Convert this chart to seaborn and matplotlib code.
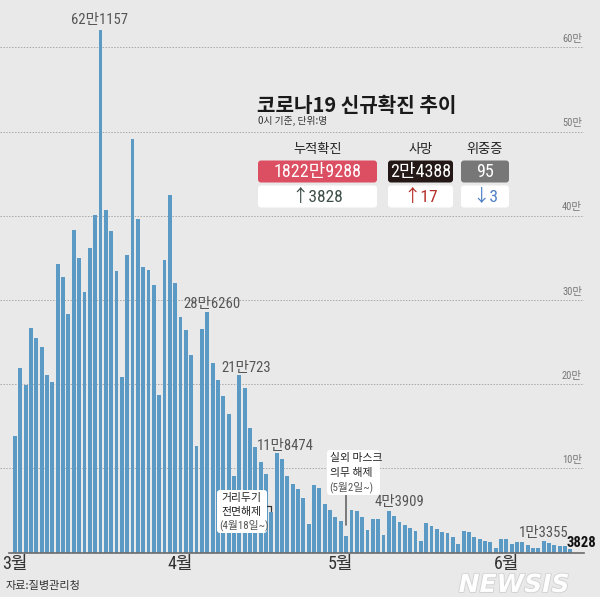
import matplotlib
matplotlib.use("Agg")
import matplotlib.pyplot as plt
import matplotlib.patheffects as pe
from matplotlib.patches import FancyBboxPatch, Rectangle
import pandas as pd
import seaborn as sns

# 코로나19 일별 신규확진 (0시 기준) 3/1 ~ 6/13
mar = [138993, 219241, 198803, 266853, 254327, 243628, 210716, 202721, 342446, 327549,
       282987, 383665, 350190, 309790, 362338, 400741, 621157, 407017, 381454, 334708,
       209169, 353980, 490881, 395598, 339514, 335580, 318130, 187213, 347554, 424641,
       320743]
apr = [280273, 264171, 234301, 127190, 266135, 286260, 224820, 205333, 185566, 164481,
       90928, 210723, 195419, 148443, 125846, 107916, 93001, 47743, 118474, 111319,
       90867, 81058, 75449, 64725, 34370, 80500, 76800, 57500, 50500, 42300]
may = [37800, 20087, 51100, 49000, 42300, 26700, 40000, 40000, 20600, 49900,
       43909, 35900, 32400, 29500, 25400, 13300, 35000, 31500, 28000, 25000,
       23000, 19000, 10000, 26000, 24000, 18500, 16000, 14000, 12500, 6000,
       16700]
jun = [16000, 10000, 12500, 12200, 9300, 5000, 6000, 13355, 12100, 9000,
       8400, 7400, 3828]

months = ["3월", "4월", "5월", "6월"]
month_days = [len(mar), len(apr), len(may), len(jun)]
cases = mar + apr + may + jun
dates = pd.date_range("2022-03-01", periods=len(cases), freq="D")

# 막대 위 숫자 라벨: 날짜 -> (라벨, x오프셋pt, y오프셋pt)
peak_labels = {
    "2022-03-17": ("62만1157", -1, 4),
    "2022-04-06": ("28만6260", 3.5, 2.5),
    "2022-04-12": ("21만723", 5, 2.2),
    "2022-04-19": ("11만8474", 6.5, 2.2),
    "2022-05-11": ("4만3909", 3.5, 7),
    "2022-06-08": ("1만3355", 0, 3.2),
}
last_label = "3828"

grid_vals = [100000, 200000, 300000, 400000, 500000, 600000]

# 누적 현황 박스
summary_titles = ["누적확진", "사망", "위중증"]
summary_totals = ["1822만9288", "2만4388", "95"]
summary_changes = ["↑3828", "↑17", "↓3"]

df = pd.DataFrame({"date": dates.strftime("%Y-%m-%d"), "cases": cases})

sns.set_style("white")
NUM = ["Roboto Condensed", "Noto Sans CJK KR", "DejaVu Sans"]
KR = ["Noto Sans CJK KR", "DejaVu Sans"]
plt.rcParams["font.family"] = NUM
plt.rcParams["axes.unicode_minus"] = False

BG = "#e9e9e9"
BAR = "#5a9ac4"

fig = plt.figure(figsize=(6, 6.11), dpi=100, facecolor=BG)
fig.patches.append(Rectangle((0, 0), 1, 14 / 611, transform=fig.transFigure,
                             facecolor="white", edgecolor="none", zorder=0))

ax = fig.add_axes([0, 58.3 / 611, 584 / 600, 552.7 / 611])
ax.set_facecolor("none")
sns.barplot(data=df, x="date", y="cases", color=BAR, saturation=1, width=0.72,
            edgecolor="none", linewidth=0, ax=ax)
ax.set_xlim(-2.81, 106.55)
ax.set_ylim(0, 656200)
ax.set_xlabel("")
ax.set_ylabel("")

for s in ["top", "right", "left"]:
    ax.spines[s].set_visible(False)
ax.spines["bottom"].set_color("#6b6b6b")
ax.spines["bottom"].set_linewidth(1.2)
ax.spines["bottom"].set_bounds(-1.1, 106.55)

ax.set_yticks(grid_vals)
ax.set_yticklabels([])
ax.tick_params(axis="y", length=0)
ax.yaxis.grid(True, linestyle=(0, (1.5, 1.5)), color="#a8a8a8", linewidth=0.7)
ax.set_axisbelow(True)
for v in grid_vals:
    ax.text(0.9966, v + 4000, f"{v // 10000}만", transform=ax.get_yaxis_transform(),
            ha="right", va="bottom", fontsize=7.5, color="#777777")

starts = [sum(month_days[:k]) for k in range(len(months))]
ax.set_xticks(starts)
ax.set_xticklabels(months, fontsize=13, color="#333333")
ax.tick_params(axis="x", length=0, pad=1.5)

# 피크 라벨
date_list = list(df["date"])
for d, (txt, dx, dy) in peak_labels.items():
    i = date_list.index(d)
    ax.annotate(txt, xy=(i, cases[i]), xytext=(dx, dy), textcoords="offset points",
                ha="center", va="baseline", fontsize=10.5, color="#555555")
ax.annotate(last_label, xy=(len(cases) - 1, cases[-1]), xytext=(8, 2),
            textcoords="offset points", ha="center", va="baseline",
            fontsize=10.5, color="#111111", fontweight="bold")

# 안내선 (거리두기 해제 4/18, 마스크 해제 5/2)
i18 = date_list.index("2022-04-18")
i02 = date_list.index("2022-05-02")
ax.plot([i18 - 0.8, i18, i18], [55400, 55400, 49500], color="#333333", lw=0.9, zorder=5)
ax.plot([i02, i02], [33000, 68500], color="#666666", lw=1.2, zorder=5)

# 오버레이 (픽셀 좌표)
ov = fig.add_axes([0, 0, 1, 1])
ov.set_xlim(0, 600)
ov.set_ylim(611, 0)
ov.axis("off")
ov.patch.set_visible(False)


def rbox(x0, y0, x1, y1, color, r=3):
    ov.add_patch(FancyBboxPatch((x0, y0), x1 - x0, y1 - y0,
                                boxstyle=f"round,pad=0,rounding_size={r}",
                                facecolor=color, edgecolor="none", zorder=3))


# 주석 박스
rbox(217, 490, 267, 533, "white")
ov.text(221, 498, "거리두기", fontsize=7.8, va="center", color="#222222", zorder=4)
ov.text(221, 511.5, "전면해제", fontsize=7.8, va="center", color="#222222", zorder=4)
ov.text(219.5, 525, "(4월18일~)", fontsize=7.8, va="center", color="#555555", zorder=4)

rbox(327, 450, 380, 495, "white")
ov.text(330, 458.5, "실외 마스크", fontsize=7.8, va="center", color="#222222", zorder=4)
ov.text(330, 472.5, "의무 해제", fontsize=7.8, va="center", color="#222222", zorder=4)
ov.text(329, 487, "(5월2일~)", fontsize=7.8, va="center", color="#555555", zorder=4)

# 제목
ov.text(257, 105, "코로나19 신규확진 추이", fontsize=14.5, fontweight="bold",
        va="center", color="#1a1a1a", family=KR)
ov.text(258, 121, "0시 기준, 단위:명", fontsize=7, va="center", color="#333333",
        family=KR)

# 현황 박스
box_x = [(258, 377), (388, 453), (461, 509)]
top_colors = ["#dc4f62", "#231815", "#777777"]
change_colors = ["#3e4f48", "#b6302a", "#4d7fc6"]
for k in range(3):
    x0, x1 = box_x[k]
    cx = (x0 + x1) / 2
    ov.text(cx, 150, summary_titles[k], fontsize=9.5, ha="center", va="center",
            color="#222222", family=KR)
    rbox(x0, 160.5, x1, 182.5, top_colors[k])
    ov.text(cx, 172, summary_totals[k], fontsize=13, ha="center", va="center",
            color="white", zorder=4)
    rbox(x0, 185.5, x1, 207.5, "white")
    ov.text(cx, 197, summary_changes[k], fontsize=12.5, ha="center", va="center",
            color=change_colors[k], zorder=4)

# 출처, 크레딧, 워터마크
ov.text(6, 586, "자료:질병관리청", fontsize=8, va="center", color="#333333", family=KR)
ov.text(592, 605, "22.06.13 안지혜 그래픽 기자  hokma@newsis.com", fontsize=7.5,
        ha="right", va="center", color="#444444")
ov.text(514, 585, "NEWSIS", fontsize=18, fontweight="bold", style="italic",
        ha="center", va="center", color="white", alpha=0.95,
        family=["DejaVu Sans"],
        path_effects=[pe.withStroke(linewidth=1.2, foreground="#cfcfcf")])

fig.savefig("out.png", dpi=100, facecolor=BG)
